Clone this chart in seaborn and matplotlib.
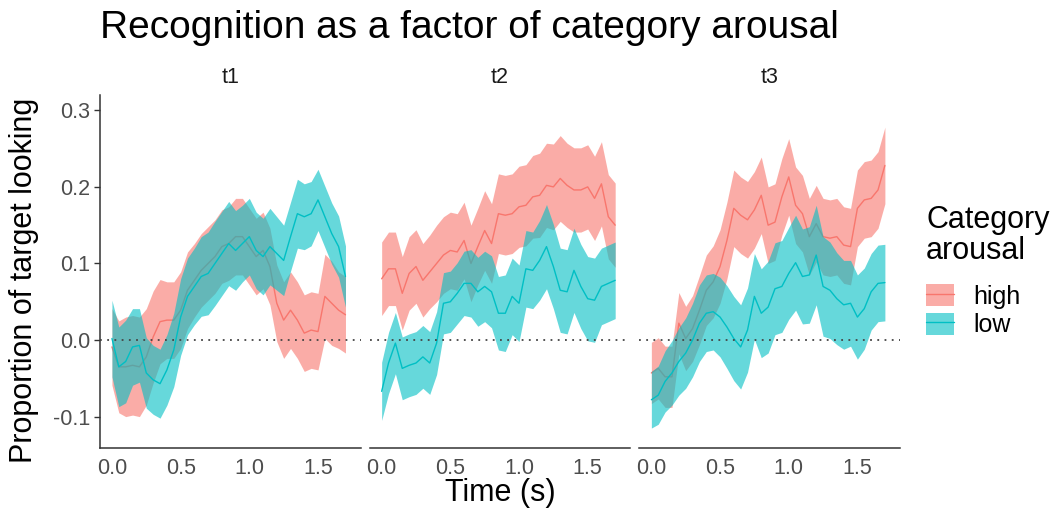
import matplotlib
matplotlib.use("Agg")
import matplotlib.pyplot as plt
import numpy as np
import pandas as pd
import seaborn as sns
from matplotlib.patches import Patch
from matplotlib.lines import Line2D

# time points (s)
time = [0.00, 0.05, 0.10, 0.15, 0.20, 0.25, 0.30, 0.35, 0.40, 0.45, 0.50, 0.55,
        0.60, 0.65, 0.70, 0.75, 0.80, 0.85, 0.90, 0.95, 1.00, 1.05, 1.10, 1.15,
        1.20, 1.25, 1.30, 1.35, 1.40, 1.45, 1.50, 1.55, 1.60, 1.65, 1.70]

panels = ["t1", "t2", "t3"]
groups = ["high", "low"]

# mean proportion of target looking
t1_high = [-0.009, -0.035, -0.035, -0.033, -0.035, -0.022, 0.004, 0.024, 0.026, 0.026,
           0.039, 0.065, 0.078, 0.091, 0.100, 0.109, 0.122, 0.126, 0.135, 0.135,
           0.122, 0.109, 0.117, 0.096, 0.048, 0.026, 0.039, 0.026, 0.009, 0.013,
           0.011, 0.057, 0.048, 0.039, 0.033]
t1_low = [0.002, -0.035, -0.028, -0.009, -0.007, -0.043, -0.052, -0.057, -0.039, -0.013,
          0.030, 0.057, 0.070, 0.083, 0.087, 0.100, 0.113, 0.126, 0.117, 0.126,
          0.135, 0.117, 0.109, 0.122, 0.113, 0.104, 0.135, 0.165, 0.161, 0.165,
          0.183, 0.161, 0.139, 0.122, 0.083]
t2_high = [0.080, 0.093, 0.093, 0.061, 0.087, 0.096, 0.078, 0.089, 0.100, 0.111,
           0.117, 0.115, 0.130, 0.100, 0.122, 0.143, 0.126, 0.165, 0.163, 0.165,
           0.174, 0.176, 0.187, 0.189, 0.202, 0.200, 0.211, 0.202, 0.196, 0.196,
           0.200, 0.185, 0.204, 0.161, 0.150]
t2_low = [-0.067, -0.030, -0.004, -0.037, -0.033, -0.030, -0.022, -0.030, -0.004, 0.048,
          0.050, 0.061, 0.074, 0.074, 0.063, 0.070, 0.063, 0.035, 0.035, 0.057,
          0.048, 0.093, 0.091, 0.104, 0.122, 0.096, 0.065, 0.063, 0.091, 0.070,
          0.054, 0.052, 0.070, 0.074, 0.078]
t3_high = [-0.043, -0.037, -0.048, -0.048, 0.022, 0.002, 0.015, 0.039, 0.065, 0.076,
           0.096, 0.130, 0.172, 0.163, 0.157, 0.170, 0.189, 0.150, 0.154, 0.187,
           0.213, 0.176, 0.165, 0.135, 0.152, 0.135, 0.133, 0.135, 0.124, 0.122,
           0.172, 0.183, 0.185, 0.196, 0.228]
t3_low = [-0.078, -0.072, -0.054, -0.043, -0.028, -0.017, 0.000, 0.022, 0.035, 0.037,
          0.030, 0.017, 0.002, -0.009, 0.013, 0.057, 0.035, 0.043, 0.067, 0.070,
          0.087, 0.101, 0.083, 0.085, 0.111, 0.070, 0.065, 0.054, 0.046, 0.048,
          0.030, 0.041, 0.063, 0.074, 0.075]

# half width of the shaded band
t1_high_hw = [0.050, 0.060, 0.065, 0.065, 0.065, 0.063, 0.060, 0.055, 0.050, 0.050,
              0.050, 0.050, 0.048, 0.048, 0.048, 0.048, 0.048, 0.048, 0.050, 0.050,
              0.050, 0.050, 0.050, 0.050, 0.050, 0.050, 0.050, 0.050, 0.050, 0.050,
              0.050, 0.055, 0.055, 0.050, 0.050]
t1_low_hw = [0.050, 0.052, 0.054, 0.050, 0.048, 0.046, 0.045, 0.045, 0.046, 0.048,
             0.050, 0.050, 0.050, 0.052, 0.054, 0.055, 0.055, 0.055, 0.052, 0.050,
             0.050, 0.050, 0.050, 0.050, 0.048, 0.046, 0.045, 0.045, 0.043, 0.042,
             0.040, 0.040, 0.040, 0.040, 0.040]
t2_high_hw = [0.048, 0.048, 0.048, 0.048, 0.048, 0.048, 0.048, 0.048, 0.050, 0.050,
              0.050, 0.050, 0.050, 0.050, 0.050, 0.052, 0.052, 0.052, 0.052, 0.052,
              0.053, 0.053, 0.054, 0.055, 0.055, 0.056, 0.056, 0.055, 0.055, 0.055,
              0.055, 0.055, 0.055, 0.055, 0.055]
t2_low_hw = [0.038, 0.040, 0.040, 0.041, 0.041, 0.041, 0.041, 0.041, 0.041, 0.040,
             0.040, 0.040, 0.042, 0.044, 0.045, 0.046, 0.047, 0.048, 0.050, 0.050,
             0.050, 0.050, 0.050, 0.052, 0.055, 0.055, 0.055, 0.055, 0.055, 0.055,
             0.055, 0.055, 0.050, 0.050, 0.050]
t3_high_hw = [0.040, 0.040, 0.040, 0.040, 0.040, 0.042, 0.043, 0.045, 0.046, 0.047,
              0.048, 0.050, 0.050, 0.050, 0.050, 0.050, 0.050, 0.050, 0.050, 0.050,
              0.050, 0.050, 0.050, 0.050, 0.050, 0.050, 0.050, 0.050, 0.050, 0.050,
              0.050, 0.050, 0.050, 0.050, 0.050]
t3_low_hw = [0.037, 0.038, 0.040, 0.042, 0.044, 0.046, 0.048, 0.050, 0.050, 0.050,
             0.052, 0.054, 0.055, 0.055, 0.055, 0.056, 0.058, 0.060, 0.060, 0.060,
             0.060, 0.062, 0.062, 0.063, 0.065, 0.065, 0.063, 0.060, 0.058, 0.056,
             0.055, 0.053, 0.050, 0.050, 0.050]

means = {("t1", "high"): t1_high, ("t1", "low"): t1_low,
         ("t2", "high"): t2_high, ("t2", "low"): t2_low,
         ("t3", "high"): t3_high, ("t3", "low"): t3_low}
halfw = {("t1", "high"): t1_high_hw, ("t1", "low"): t1_low_hw,
         ("t2", "high"): t2_high_hw, ("t2", "low"): t2_low_hw,
         ("t3", "high"): t3_high_hw, ("t3", "low"): t3_low_hw}

# two rows per point (lower / upper edge) -> mean line + min/max band via seaborn
rows = []
for (p, g), m in means.items():
    for t, v, h in zip(time, m, halfw[(p, g)]):
        rows.append((p, g, t, v - h))
        rows.append((p, g, t, v + h))
df = pd.DataFrame(rows, columns=["panel", "arousal", "time", "value"])

palette = {"high": "#F8766D", "low": "#00BFC4"}

sns.set_style("white")
plt.rcParams["font.family"] = ["Liberation Sans", "DejaVu Sans"]
plt.rcParams["axes.unicode_minus"] = False
plt.rcParams["text.color"] = "black"

fig, axes = plt.subplots(1, 3, figsize=(10.63, 5.17), dpi=100, sharey=True)
plt.subplots_adjust(left=100 / 1063, right=900 / 1063,
                    bottom=1 - 448 / 517, top=1 - 95 / 517, wspace=0.035)

for i, (ax, p) in enumerate(zip(axes, panels)):
    sub = df[df["panel"] == p]
    for j, g in enumerate(groups):
        sns.lineplot(data=sub[sub["arousal"] == g], x="time", y="value",
                     estimator="mean", errorbar=("pi", 100), color=palette[g],
                     linewidth=1.0, zorder=2 + 2 * j, legend=False, ax=ax,
                     err_kws={"alpha": 0.6, "linewidth": 0, "zorder": 1 + 2 * j})
    ax.axhline(0, color="#444444", linestyle=(0, (1, 3)), linewidth=1.3, zorder=6)
    ax.set_xlim(-0.087, 1.81)
    ax.set_ylim(-0.141, 0.320)
    ax.set_xticks([0.0, 0.5, 1.0, 1.5])
    ax.set_xticklabels(["0.0", "0.5", "1.0", "1.5"])
    ax.set_xlabel("")
    ax.set_ylabel("")
    sns.despine(ax=ax, left=(i > 0))
    ax.spines["bottom"].set_color("#333333")
    ax.spines["bottom"].set_linewidth(1.1)
    ax.spines["left"].set_color("#333333")
    ax.spines["left"].set_linewidth(1.1)
    ax.tick_params(axis="x", length=4, width=1.0, color="#333333",
                   labelsize=15.5, labelcolor="#4D4D4D", pad=3)
    if i == 0:
        ax.tick_params(axis="y", length=4, width=1.0, color="#333333",
                       labelsize=15.5, labelcolor="#4D4D4D", pad=3, left=True)
    else:
        ax.tick_params(axis="y", left=False, labelleft=False)
    ax.annotate(p, xy=(0.5, 1.0), xycoords="axes fraction", xytext=(0, 12.5),
                textcoords="offset points", ha="center", va="center",
                fontsize=15.5, color="#1A1A1A")

axes[0].set_yticks([-0.1, 0.0, 0.1, 0.2, 0.3])
axes[0].set_yticklabels(["-0.1", "0.0", "0.1", "0.2", "0.3"])

fig.text(100 / 1063, 1 - 38 / 517, "Recognition as a factor of category arousal",
         fontsize=28, ha="left", va="baseline")
fig.text(500 / 1063, 1 - 493 / 517, "Time (s)", fontsize=22, ha="center", va="center")
fig.text(24 / 1063, 1 - 280 / 517, "Proportion of target looking", fontsize=22,
         rotation=90, ha="center", va="center")

# legend title drawn separately to get the ggplot-like gap before the keys
fig.text(926 / 1063, 1 - 205 / 517, "Category\narousal", fontsize=22,
         ha="left", va="top", linespacing=1.05)
handles = [(Patch(facecolor=palette[g], alpha=0.6, edgecolor="none"),
            Line2D([0], [0], color=palette[g], linewidth=1.0)) for g in groups]
fig.legend(handles, groups, loc="upper left",
           bbox_to_anchor=(926 / 1063, 1 - 284 / 517), frameon=False,
           fontsize=18, handlelength=1.1, handleheight=1.0,
           labelspacing=0.15, handletextpad=0.8, borderpad=0, borderaxespad=0)

fig.savefig("out.png", dpi=100)
